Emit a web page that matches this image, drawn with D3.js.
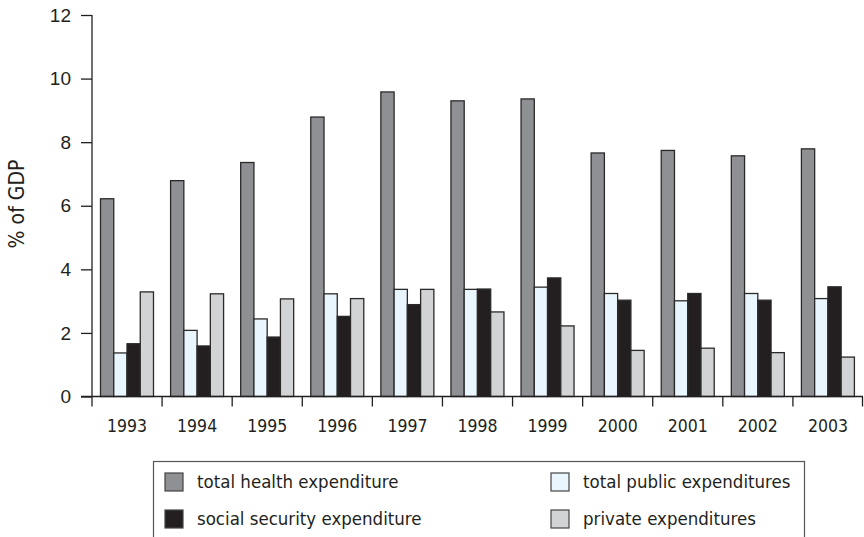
<!DOCTYPE html>
<html>
<head>
<meta charset="utf-8">
<script src="https://cdn.jsdelivr.net/npm/d3@7"></script>
<style>
  body { margin: 0; background: #fff; }
  svg { display: block; font-family: "DejaVu Sans Condensed", "DejaVu Sans", sans-serif; font-stretch: condensed; }
</style>
</head>
<body>
<div id="chart"></div>
<script>
  // data
  var years = ["1993", "1994", "1995", "1996", "1997", "1998", "1999", "2000", "2001", "2002", "2003"];
  var seriesNames = ["total health expenditure", "total public expenditures", "social security expenditure", "private expenditures"];
  var seriesColors = ["#8f9094", "#eaf6fd", "#231f20", "#d2d3d5"];
  var totalHealth = [6.22, 6.79, 7.36, 8.79, 9.58, 9.30, 9.36, 7.66, 7.74, 7.57, 7.79];
  var totalPublic = [1.37, 2.08, 2.44, 3.23, 3.37, 3.37, 3.44, 3.24, 3.01, 3.24, 3.08];
  var socialSecurity = [1.66, 1.59, 1.87, 2.52, 2.89, 3.38, 3.73, 3.03, 3.24, 3.03, 3.45];
  var privateExp = [3.29, 3.23, 3.07, 3.08, 3.37, 2.66, 2.22, 1.45, 1.52, 1.38, 1.24];
  var yTicks = [0, 2, 4, 6, 8, 10, 12];

  var seriesValues = [totalHealth, totalPublic, socialSecurity, privateExp];

  var width = 864, height = 537;
  var svg = d3.select("#chart").append("svg")
    .attr("width", width)
    .attr("height", height);

  var x = d3.scaleBand()
    .domain(years)
    .range([92, 863])
    .padding(0);

  var xInner = d3.scaleBand()
    .domain(d3.range(seriesNames.length))
    .range([8.5, 61.5])
    .padding(0);

  var y = d3.scaleLinear()
    .domain([0, 12])
    .range([396.5, 15]);

  // bars
  var groups = svg.append("g").selectAll("g")
    .data(years)
    .enter().append("g")
    .attr("transform", d => "translate(" + x(d) + ",0)");

  groups.selectAll("rect")
    .data((d, i) => seriesValues.map((s, k) => ({ k: k, v: s[i] })))
    .enter().append("rect")
    .attr("x", d => xInner(d.k))
    .attr("width", xInner.bandwidth())
    .attr("y", d => y(d.v))
    .attr("height", d => y(0) - y(d.v))
    .attr("fill", d => seriesColors[d.k])
    .attr("stroke", "#2a2a2a")
    .attr("stroke-width", 1.3);

  // y axis
  var yAxis = d3.axisLeft(y)
    .tickValues(yTicks)
    .tickSize(11)
    .tickPadding(10)
    .tickFormat(d3.format("d"));

  var yAxisGroup = svg.append("g")
    .attr("transform", "translate(92,0)")
    .call(yAxis);
  yAxisGroup.select(".domain").remove();
  yAxisGroup.selectAll("line").attr("stroke", "#231f20").attr("stroke-width", 1.3);
  yAxisGroup.selectAll("text")
    .attr("font-size", "19px")
    .attr("fill", "#231f20")
    .style("font-family", "inherit");

  svg.append("line")
    .attr("x1", 92).attr("x2", 92)
    .attr("y1", y(12)).attr("y2", y(0) + 10)
    .attr("stroke", "#231f20")
    .attr("stroke-width", 1.3);

  // x axis baseline and separators
  svg.append("line")
    .attr("x1", 81).attr("x2", 863)
    .attr("y1", y(0)).attr("y2", y(0))
    .attr("stroke", "#231f20")
    .attr("stroke-width", 1.3);

  svg.append("g").selectAll("line")
    .data(years.slice(1).concat(["end"]))
    .enter().append("line")
    .attr("x1", d => d === "end" ? x.range()[1] - 0.5 : x(d))
    .attr("x2", d => d === "end" ? x.range()[1] - 0.5 : x(d))
    .attr("y1", y(0))
    .attr("y2", y(0) + 10)
    .attr("stroke", "#231f20")
    .attr("stroke-width", 1.3);

  svg.append("g").selectAll("text")
    .data(years)
    .enter().append("text")
    .attr("x", d => x(d) + x.bandwidth() / 2)
    .attr("y", 432)
    .attr("text-anchor", "middle")
    .attr("font-size", "17.5px")
    .attr("fill", "#231f20")
    .text(d => d);

  // y label
  svg.append("text")
    .attr("transform", "translate(24,204) rotate(-90)")
    .attr("text-anchor", "middle")
    .attr("font-size", "21px")
    .attr("fill", "#231f20")
    .text("% of GDP");

  // legend
  var legend = svg.append("g");
  legend.append("rect")
    .attr("x", 153.5).attr("y", 461.5)
    .attr("width", 651).attr("height", 100)
    .attr("fill", "none")
    .attr("stroke", "#555")
    .attr("stroke-width", 1.2);

  var legendPos = [
    { sx: 165, tx: 197, cy: 482 },
    { sx: 551, tx: 583, cy: 482 },
    { sx: 165, tx: 197, cy: 519 },
    { sx: 551, tx: 583, cy: 519 }
  ];

  var items = legend.selectAll("g.item")
    .data(seriesNames)
    .enter().append("g")
    .attr("class", "item");

  items.append("rect")
    .attr("x", (d, i) => legendPos[i].sx)
    .attr("y", (d, i) => legendPos[i].cy - 9)
    .attr("width", 18).attr("height", 18)
    .attr("fill", (d, i) => seriesColors[i])
    .attr("stroke", "#444")
    .attr("stroke-width", 1.2);

  items.append("text")
    .attr("x", (d, i) => legendPos[i].tx)
    .attr("y", (d, i) => legendPos[i].cy)
    .attr("dy", "0.35em")
    .attr("font-size", "18.5px")
    .attr("fill", "#231f20")
    .text(d => d);
</script>
</body>
</html>
